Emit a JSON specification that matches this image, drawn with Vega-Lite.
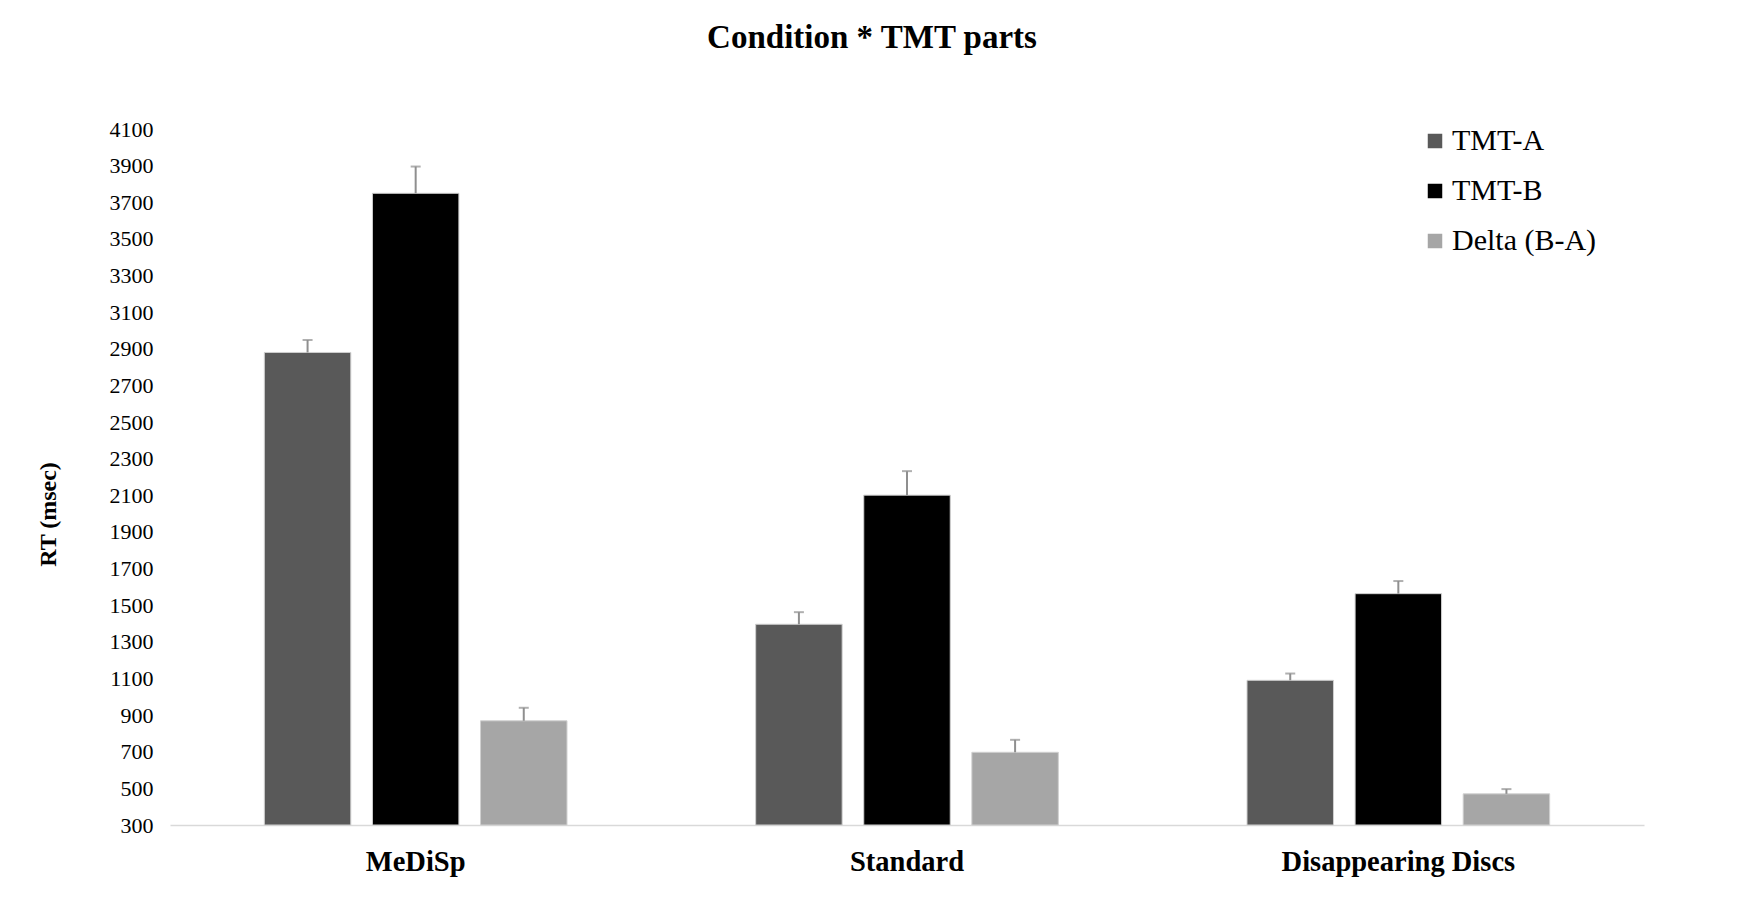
{
  "$schema": "https://vega.github.io/schema/vega-lite/v6.json",
  "width": 1474,
  "height": 696,
  "autosize": {"type": "none"},
  "padding": {"left": 170, "top": 129, "right": 102, "bottom": 85},
  "background": "white",
  "title": {
    "text": "Condition * TMT parts",
    "font": "Liberation Serif",
    "fontSize": 33,
    "fontWeight": "bold",
    "color": "black",
    "anchor": "middle",
    "frame": "group",
    "dx": -35,
    "offset": 63
  },
  "data": {
    "values": [
      {"Condition": "MeDiSp", "Part": "TMT-A", "RT": 2880, "Upper": 2948},
      {"Condition": "MeDiSp", "Part": "TMT-B", "RT": 3749, "Upper": 3895},
      {"Condition": "MeDiSp", "Part": "Delta (B-A)", "RT": 869, "Upper": 940},
      {"Condition": "Standard", "Part": "TMT-A", "RT": 1396, "Upper": 1462},
      {"Condition": "Standard", "Part": "TMT-B", "RT": 2101, "Upper": 2232},
      {"Condition": "Standard", "Part": "Delta (B-A)", "RT": 697, "Upper": 765},
      {"Condition": "Disappearing Discs", "Part": "TMT-A", "RT": 1090, "Upper": 1127},
      {"Condition": "Disappearing Discs", "Part": "TMT-B", "RT": 1563, "Upper": 1632},
      {"Condition": "Disappearing Discs", "Part": "Delta (B-A)", "RT": 470, "Upper": 496}
    ]
  },
  "encoding": {
    "x": {
      "field": "Condition",
      "type": "nominal",
      "sort": ["MeDiSp", "Standard", "Disappearing Discs"],
      "scale": {"paddingInner": 0.384, "paddingOuter": 0.192},
      "axis": {
        "title": null,
        "labelAngle": 0,
        "labelFont": "Liberation Serif",
        "labelFontSize": 28.5,
        "labelFontWeight": "bold",
        "labelColor": "black",
        "labelPadding": 22,
        "labelLimit": 0,
        "labelOverlap": false,
        "ticks": false,
        "domainColor": "#d9d9d9",
        "domainWidth": 1.5
      }
    },
    "xOffset": {
      "field": "Part",
      "type": "nominal",
      "sort": ["TMT-A", "TMT-B", "Delta (B-A)"],
      "scale": {"paddingInner": 0.2, "paddingOuter": 0}
    },
    "y": {
      "field": "RT",
      "type": "quantitative",
      "scale": {"domain": [300, 4100], "nice": false, "zero": false},
      "axis": {
        "title": "RT (msec)",
        "titleFont": "Liberation Serif",
        "titleFontSize": 24,
        "titleFontWeight": "bold",
        "titleColor": "black",
        "titleX": -122,
        "titleY": 385,
        "titleBaseline": "middle",
        "titleAngle": -90,
        "values": [300, 500, 700, 900, 1100, 1300, 1500, 1700, 1900, 2100, 2300, 2500, 2700, 2900, 3100, 3300, 3500, 3700, 3900, 4100],
        "format": "d",
        "labelOverlap": false,
        "labelFont": "Liberation Serif",
        "labelFontSize": 22,
        "labelColor": "black",
        "labelPadding": 17,
        "ticks": false,
        "domain": false,
        "grid": false
      }
    }
  },
  "layer": [
    {
      "mark": {"type": "bar", "stroke": "#d0d0d0", "strokeWidth": 1},
      "encoding": {
        "y2": {"datum": 300},
        "color": {
          "field": "Part",
          "type": "nominal",
          "scale": {
            "domain": ["TMT-A", "TMT-B", "Delta (B-A)"],
            "range": ["#595959", "#000000", "#a6a6a6"]
          },
          "legend": {
            "title": null,
            "orient": "none",
            "legendX": 1250,
            "legendY": -3,
            "padding": 0,
            "symbolType": "square",
            "symbolSize": 210,
            "symbolStrokeWidth": 0,
            "labelFont": "Liberation Serif",
            "labelFontSize": 30,
            "labelColor": "black",
            "labelOffset": 2,
            "rowPadding": 20
          }
        }
      }
    },
    {
      "mark": {"type": "rule", "color": "#8f8f8f", "strokeWidth": 2},
      "encoding": {
        "y2": {"field": "Upper"}
      }
    },
    {
      "mark": {"type": "tick", "color": "#8f8f8f", "thickness": 2, "size": 10, "orient": "horizontal"},
      "encoding": {
        "y": {"field": "Upper", "type": "quantitative"}
      }
    }
  ],
  "config": {
    "view": {"stroke": null},
    "axis": {"labelOverlap": false},
    "axisY": {"labelOverlap": false}
  }
}
